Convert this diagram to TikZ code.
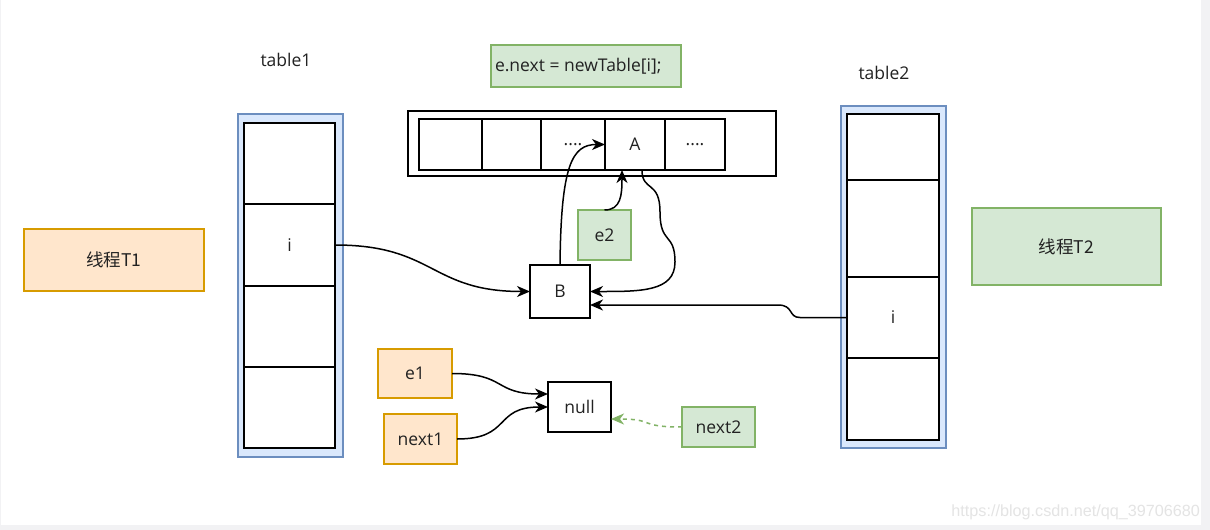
\documentclass[tikz,border=0pt]{standalone}
\usepackage{fontspec}
\setmainfont{Open Sans}
\newfontfamily\cjk{Noto Sans CJK SC}
\newfontfamily\wmfont{Liberation Sans}
\usetikzlibrary{arrows.meta,calc}
\definecolor{bluef}{HTML}{DAE8FC}
\definecolor{bluel}{HTML}{6C8EBF}
\definecolor{orf}{HTML}{FFE6CC}
\definecolor{orl}{HTML}{D79B00}
\definecolor{grf}{HTML}{D5E8D4}
\definecolor{grl}{HTML}{82B366}
\definecolor{txt}{HTML}{222222}
\definecolor{pagegray}{HTML}{F2F2F4}
\definecolor{wm}{HTML}{E4E4E4}
\begin{document}
\begin{tikzpicture}[x=1pt,y=-1pt,
  every node/.style={font=\fontsize{17.5}{20}\selectfont, text=txt, inner sep=0pt, outer sep=0pt},
  cell/.style={draw=black, line width=1.3pt, fill=white},
  bluebox/.style={draw=bluel, fill=bluef, line width=1.3pt},
  orbox/.style={draw=orl, fill=orf, line width=1.3pt},
  grbox/.style={draw=grl, fill=grf, line width=1.3pt},
  conn/.style={line width=1.5pt, -{Stealth[length=13pt,width=11pt,inset=4pt]}},
  dconn/.style={line width=1.5pt, draw=grl, dash pattern=on 4pt off 4pt, -{Stealth[length=13pt,width=11pt,inset=4pt]}}
]
\useasboundingbox (0,0) rectangle (1210,530);
\fill[pagegray] (0,0) rectangle (1210,530);
\fill[white] (1,0) rectangle (1201,525);

% table1
\node[bluebox, minimum width=105pt, minimum height=343pt] (tbl1) at (290.5,285.5) {};
\node[cell, minimum width=91pt, minimum height=81pt] (t1c1) at (289.5,163.5) {};
\node[cell, minimum width=91pt, minimum height=82pt] (t1c2) at (289.5,245) {i};
\node[cell, minimum width=91pt, minimum height=81pt] (t1c3) at (289.5,326.5) {};
\node[cell, minimum width=91pt, minimum height=81pt] (t1c4) at (289.5,407.5) {};
\node (lt1) at (286,60) {table1};

% thread T1
\node[orbox, minimum width=180pt, minimum height=62pt] (T1) at (114,260) {\cjk 线程T1};

% top array
\node[cell, minimum width=368pt, minimum height=65pt] (arr) at (592,143.5) {};
\node[cell, minimum width=63pt, minimum height=51pt] (c1) at (450.5,144.5) {};
\node[cell, minimum width=59pt, minimum height=51pt] (c2) at (511.5,144.5) {};
\node[cell, minimum width=64pt, minimum height=51pt] (c3) at (573,144.5) {....};
\node[cell, minimum width=60pt, minimum height=51pt] (cA) at (635,144.5) {A};
\node[cell, minimum width=60pt, minimum height=51pt] (c5) at (695,144.5) {....};

% code label
\node[grbox, minimum width=190pt, minimum height=42pt] (code) at (586,66) {};
\node[anchor=west] (codet) at (495,66) {e.next = newTable[i];};

% table2
\node[bluebox, minimum width=105pt, minimum height=342pt] (tbl2) at (893.5,277) {};
\node[cell, minimum width=92pt, minimum height=66pt] (t2c1) at (893,147) {};
\node[cell, minimum width=92pt, minimum height=97pt] (t2c2) at (893,228.5) {};
\node[cell, minimum width=92pt, minimum height=81pt] (t2c3) at (893,317.5) {i};
\node[cell, minimum width=92pt, minimum height=82pt] (t2c4) at (893,399) {};
\node (lt2) at (884,73) {table2};

% thread T2
\node[grbox, minimum width=189pt, minimum height=77pt] (T2) at (1066.5,246.5) {\cjk 线程T2};

% small nodes
\node[grbox, minimum width=53pt, minimum height=50pt] (e2) at (604.5,235) {e2};
\node[cell, minimum width=60pt, minimum height=53pt] (B) at (560,291.5) {B};
\node[orbox, minimum width=74pt, minimum height=49pt] (e1) at (415,373.5) {e1};
\node[orbox, minimum width=73pt, minimum height=50pt] (next1) at (420.5,439) {next1};
\node[cell, minimum width=63pt, minimum height=50pt] (null) at (579.5,407) {null};
\node[grbox, minimum width=73pt, minimum height=40pt] (next2) at (718.5,427) {next2};

% connectors
\draw[conn] (t1c2.east) .. controls +(100,0) and +(-100,0) .. (B.west);
\draw[conn] (B.north) .. controls (561,165) and (572,144.5) .. (cA.west);
\draw[conn] (e2.north) .. controls (621,210) and (622,195) .. ([xshift=-13pt]cA.south);
\draw[conn] ([xshift=7pt]cA.south) .. controls (642,192) and (660,180) .. (660,212)
  .. controls (660,245) and (675,232) .. (675,262)
  .. controls (675,292) and (640,291.5) .. (B.east);
\draw[conn] (t2c3.west) -- (800,317.5) .. controls (788,317.5) and (794,305) .. (778,305) -- ($(B.east)+(0,13.5)$);
\draw[conn] (e1.east) .. controls +(55,0) and +(-55,0) .. ($(null.west)+(0,-13)$);
\draw[conn] (next1.east) .. controls +(55,0) and +(-55,0) .. (null.west);
\draw[dconn] (next2.west) .. controls +(-45,0) and +(45,0) .. ($(null.east)+(0,12)$);

% watermark
\node[anchor=east, text=wm, font=\wmfont\fontsize{16.2}{18}\selectfont] (wmk) at (1200,512) {https://blog.csdn.net/qq\_39706680};
\end{tikzpicture}
\end{document}
